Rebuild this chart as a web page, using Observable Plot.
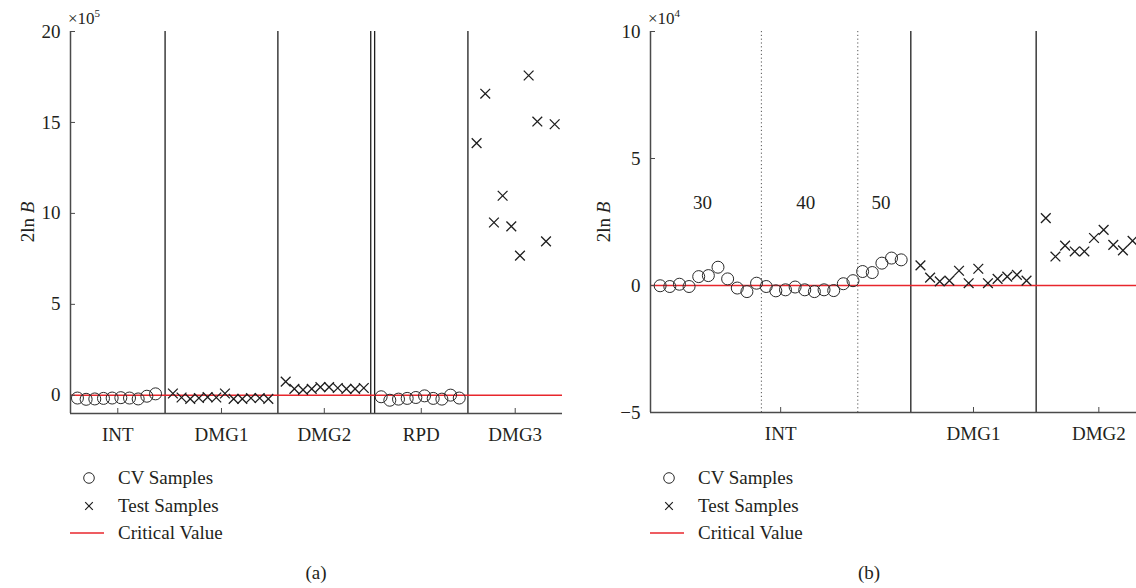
<!DOCTYPE html>
<html><head><meta charset="utf-8">
<script src="https://cdn.jsdelivr.net/npm/d3@7"></script>
<script src="https://cdn.jsdelivr.net/npm/@observablehq/plot@0.6"></script>
<style>
html,body{margin:0;padding:0;background:#fff;width:1136px;height:588px;overflow:hidden;}
body{position:relative;font-family:"Liberation Serif","DejaVu Serif",serif;color:#231f20;}
.panel{position:absolute;top:0;}
.abs{position:absolute;white-space:nowrap;font-size:19px;line-height:1;}
.exp{font-size:17px;}
.exp sup{font-size:11px;vertical-align:0;position:relative;top:-7px;}
.ylab{transform:translate(-50%,-50%) rotate(-90deg);}
.leg{position:absolute;font-size:19px;line-height:1;}
.row{position:absolute;left:0;white-space:nowrap;}
.row svg{position:absolute;left:0;top:-2px;overflow:visible;}
.row span{position:absolute;top:-10px;}
.cap{transform:translateX(-50%);}
</style></head><body>
<script>
// ---------- Panel (a): values in units of 10^5 ----------
const aGroups   = ["INT", "DMG1", "DMG2", "RPD", "DMG3"];
const aKinds    = ["cv", "test", "test", "cv", "test"];
const aStarts   = [1, 12, 25, 36, 47];          // sample index of each group's first sample
const aINT  = [-0.15, -0.22, -0.2, -0.17, -0.15, -0.13, -0.15, -0.2, -0.05, 0.08];
const aDMG1 = [0.1, -0.12, -0.2, -0.15, -0.1, -0.12, 0.1, -0.2, -0.2, -0.15, -0.15, -0.2];
const aDMG2 = [0.75, 0.35, 0.3, 0.35, 0.45, 0.45, 0.4, 0.35, 0.35, 0.4];
const aRPD  = [-0.08, -0.27, -0.21, -0.17, -0.12, -0.03, -0.17, -0.21, 0.01, -0.15];
const aDMG3 = [13.86, 16.58, 9.5, 10.97, 9.29, 7.68, 17.58, 15.05, 8.46, 14.9];
const aSeparators = [11.1, 24.1, 34.8, 35.25, 46];
const aRegions = [[0.2, 11.1], [11.1, 24.1], [24.1, 34.8], [35.25, 46], [46, 56.9]];
const aYTicks = [0, 5, 10, 15, 20];
const aCritical = 0;

// ---------- Panel (b): values in units of 10^4 ----------
const bGroups = ["INT", "DMG1", "DMG2"];
const bKinds  = ["cv", "test", "test"];
const bStarts = [1, 28, 41];
const bINT  = [-0.01, -0.04, 0.05, -0.04, 0.35, 0.39, 0.72, 0.26, -0.10, -0.24, 0.09,
               -0.04, -0.21, -0.17, -0.06, -0.17, -0.24, -0.17, -0.20, 0.07, 0.19,
               0.55, 0.51, 0.88, 1.08, 1.01];
const bDMG1 = [0.79, 0.31, 0.16, 0.19, 0.58, 0.09, 0.66, 0.09, 0.26, 0.35, 0.42, 0.19];
const bDMG2 = [2.65, 1.14, 1.57, 1.34, 1.34, 1.87, 2.19, 1.60, 1.38, 1.76];
const bSeparators = [27, 40];
const bDotted = [11.5, 21.5];
const bRegions = [[0, 27], [27, 40], [40, 53]];
const bSubLabels = ["30", "40", "50"];
const bSubLabelX = [5.4, 16.1, 23.9];
const bSubLabelY = 3.25;
const bYTicks = [-5, 0, 5, 10];
const bCritical = 0;

const axisColor = "#4a4a4a";
const sepColor = "#1e1e1e";
const redColor = "#e8262c";

function samples(values, kinds, starts) {
  const cv = [], test = [];
  values.forEach((vals, g) => vals.forEach((v, i) => {
    (kinds[g] === "cv" ? cv : test).push({x: starts[g] + i, y: v});
  }));
  return {cv, test};
}
const fmt = d => d < 0 ? "\u2212" + Math.abs(d) : String(d);

function panel(o) {
  const {cv, test} = samples(o.values, o.kinds, o.starts);
  const tickPos = o.regions.map(([a, b]) => (a + b) / 2);
  const labelAt = new Map(tickPos.map((p, i) => [p, o.groups[i]]));
  const marks = [
    Plot.ruleX(o.separators, {stroke: sepColor, strokeWidth: 1.3}),
    Plot.ruleX(o.dotted || [], {stroke: "#555", strokeWidth: 1, strokeDasharray: "1.2,2.6"}),
    Plot.ruleY([o.critical], {stroke: redColor, strokeWidth: 1.5}),
    Plot.dot(cv, {x: "x", y: "y", r: 6, stroke: "#2a2a2a", strokeWidth: 1, fill: "none"}),
    Plot.dot(test, {x: "x", y: "y", symbol: "times", r: 4.5, stroke: "#1e1e1e", strokeWidth: 1.3}),
    Plot.ruleX([o.xDomain[0]], {stroke: axisColor, strokeWidth: 1.5}),
    Plot.ruleY([o.yDomain[0]], {stroke: axisColor, strokeWidth: 1.5}),
    Plot.axisY({ticks: o.yTicks, tickSize: 0, tickPadding: 10, tickFormat: fmt, label: null}),
    Plot.axisY({ticks: o.yTicks, tickSize: -5, tickFormat: () => "", label: null, stroke: axisColor}),
    Plot.axisX({ticks: tickPos, tickSize: 0, tickPadding: 14, tickFormat: d => labelAt.get(d), label: null}),
    Plot.axisX({ticks: tickPos, tickSize: -5, tickFormat: () => "", label: null, stroke: axisColor})
  ];
  if (o.subLabels) {
    marks.push(Plot.text(o.subLabels, {x: (d, i) => o.subLabelX[i], y: () => o.subLabelY, text: d => d, fill: "#231f20"}));
  }
  return Plot.plot({
    width: o.width, height: o.height,
    marginLeft: o.marginLeft, marginRight: o.marginRight,
    marginTop: o.marginTop, marginBottom: o.marginBottom,
    style: {fontFamily: "'Liberation Serif', serif", fontSize: "19px", color: "#231f20", background: "transparent", overflow: "visible"},
    x: {domain: o.xDomain, label: null},
    y: {domain: o.yDomain, label: null},
    marks
  });
}

function addPanel(left, width, plot) {
  const d = document.createElement("div");
  d.className = "panel";
  d.style.left = left + "px";
  d.style.width = width + "px";
  d.appendChild(plot);
  document.body.appendChild(d);
}

addPanel(0, 568, panel({
  width: 568, height: 450, marginLeft: 70, marginRight: 6, marginTop: 31, marginBottom: 37,
  xDomain: [0.2, 56.9], yDomain: [-1, 20], yTicks: aYTicks,
  values: [aINT, aDMG1, aDMG2, aRPD, aDMG3], kinds: aKinds, starts: aStarts,
  groups: aGroups, regions: aRegions, separators: aSeparators, critical: aCritical
}));

addPanel(580, 600, panel({
  width: 600, height: 450, marginLeft: 70, marginRight: 19, marginTop: 31, marginBottom: 38,
  xDomain: [0, 53], yDomain: [-5, 10], yTicks: bYTicks,
  values: [bINT, bDMG1, bDMG2], kinds: bKinds, starts: bStarts,
  groups: bGroups, regions: bRegions, separators: bSeparators, dotted: bDotted, critical: bCritical,
  subLabels: bSubLabels, subLabelX: bSubLabelX, subLabelY: bSubLabelY
}));

function html(cls, left, top, inner) {
  const d = document.createElement("div");
  d.className = cls;
  d.style.left = left + "px";
  d.style.top = top + "px";
  d.innerHTML = inner;
  document.body.appendChild(d);
  return d;
}
// multipliers
html("abs exp", 68, 10, "\u00d710<sup>5</sup>");
html("abs exp", 648, 10, "\u00d710<sup>4</sup>");
// y labels
html("abs ylab", 27, 222, "2ln <i>B</i>");
html("abs ylab", 603, 222, "2ln <i>B</i>");

// legends
const legendItems = ["CV Samples", "Test Samples", "Critical Value"];
const legendRows = [478, 506, 533];
function legend(left) {
  const icons = [
    `<svg width="36" height="4"><circle cx="19" cy="2" r="5.3" fill="none" stroke="#2a2a2a" stroke-width="1"/></svg>`,
    `<svg width="36" height="4"><path d="M15.2,-1.8L22.8,5.8M22.8,-1.8L15.2,5.8" stroke="#1e1e1e" stroke-width="1.2"/></svg>`,
    `<svg width="36" height="4"><line x1="0" x2="34" y1="2" y2="2" stroke="${redColor}" stroke-width="1.6"/></svg>`
  ];
  legendItems.forEach((t, i) => {
    html("leg", left, legendRows[i], `<div class="row">${icons[i]}<span style="left:48px">${t}</span></div>`);
  });
}
legend(70);
legend(650);

html("abs cap", 316, 563, "(a)");
html("abs cap", 869, 563, "(b)");
</script>
</body></html>
